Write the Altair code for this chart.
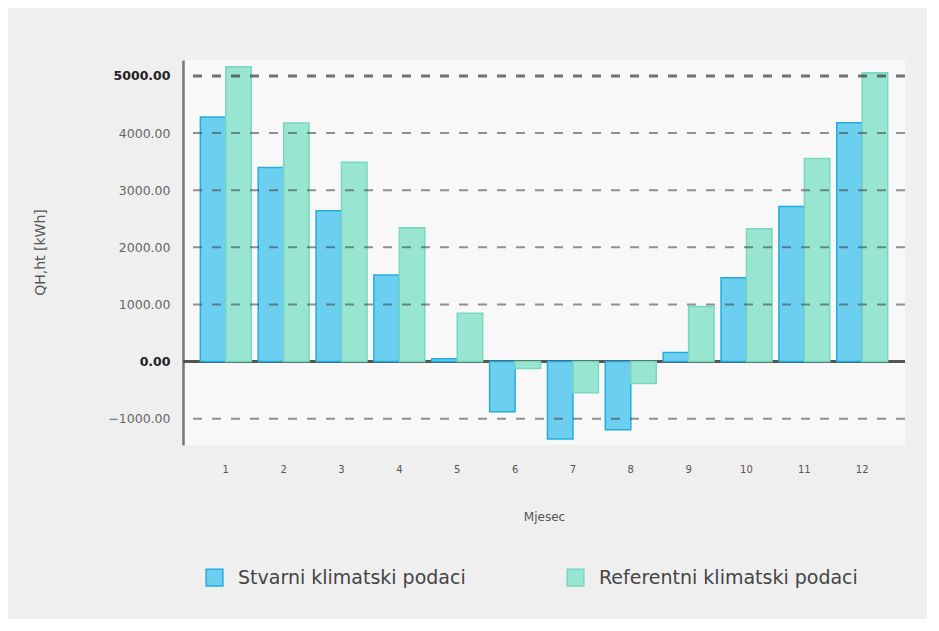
import altair as alt
import pandas as pd

months = [1, 2, 3, 4, 5, 6, 7, 8, 9, 10, 11, 12]
stvarni = [4280, 3400, 2640, 1515, 50, -880, -1355, -1195, 160, 1470, 2715, 4180]
referentni = [5160, 4175, 3490, 2345, 845, -120, -545, -385, 965, 2325, 3555, 5055]
series_names = ["Stvarni klimatski podaci", "Referentni klimatski podaci"]
y_ticks = [-1000, 0, 1000, 2000, 3000, 4000, 5000]
grid_thin = [-1000, 1000, 2000, 3000, 4000]
grid_thick = [5000]

rows = []
for m, a, b in zip(months, stvarni, referentni):
    rows.append({"Mjesec": m, "serija": series_names[0], "val": a})
    rows.append({"Mjesec": m, "serija": series_names[1], "val": b})
df = pd.DataFrame(rows)
thin_df = pd.DataFrame({"val": grid_thin})
thick_df = pd.DataFrame({"val": grid_thick})

FONT = "DejaVu Sans"

x = alt.X(
    "Mjesec:O",
    title="Mjesec",
    scale=alt.Scale(paddingInner=0.12, paddingOuter=0.3),
    axis=alt.Axis(
        labelAngle=0, ticks=False, domain=False, labelPadding=19,
        labelFontSize=10, labelColor="#555", labelFont=FONT,
        titleFontSize=12, titleFont=FONT, titleColor="#555",
        titleFontWeight="normal", titlePadding=37, grid=False,
    ),
)

yscale = alt.Scale(domain=[-1460, 5280], nice=False, zero=True)

y = alt.Y(
    "val:Q",
    title="QH,ht [kWh]",
    scale=yscale,
    axis=alt.Axis(
        values=y_ticks, format=".2f", ticks=False, grid=False,
        domainColor="#777", domainWidth=2.5,
        labelPadding=13, labelFontSize=12.5, labelFont=FONT,
        labelColor=alt.ExprRef(expr="datum.value == 0 || datum.value == 5000 ? '#222' : '#666'"),
        labelFontWeight=alt.ExprRef(expr="datum.value == 0 || datum.value == 5000 ? 'bold' : 'normal'"),
        titleFontSize=14, titleFont=FONT, titleColor="#555", titleFontWeight="normal",
        titleX=-143, titleY=192, titleAngle=-90, titleBaseline="middle", titleAlign="center",
    ),
)

zero_rule = alt.Chart(df).mark_rule(color="#555", strokeWidth=2).encode(
    y=alt.datum(0)
)

bars = alt.Chart(df).mark_bar(strokeWidth=1.5).encode(
    x=x,
    y=y,
    xOffset=alt.XOffset("serija:N", sort=series_names),
    fill=alt.Fill(
        "serija:N",
        sort=series_names,
        scale=alt.Scale(domain=series_names, range=["#6dcff0", "#98e6d2"]),
        legend=alt.Legend(title=None),
    ),
    stroke=alt.Stroke(
        "serija:N",
        sort=series_names,
        scale=alt.Scale(domain=series_names, range=["#22ade0", "#78d8be"]),
        legend=alt.Legend(title=None),
    ),
)

grid_a = alt.Chart(thin_df).mark_rule(
    color="#3a3a3a", opacity=0.55, strokeWidth=2, strokeDash=[9, 10]
).encode(y=alt.Y("val:Q", scale=yscale))

grid_b = alt.Chart(thick_df).mark_rule(
    color="#3a3a3a", opacity=0.7, strokeWidth=3, strokeDash=[9, 10]
).encode(y=alt.Y("val:Q", scale=yscale))

chart = (
    alt.layer(zero_rule, bars, grid_a, grid_b)
    .properties(
        width=722,
        height=385,
        background="#efefef",
        padding={"left": 175, "top": 52, "right": 22, "bottom": 174},
        autosize=alt.AutoSizeParams(type="none"),
    )
    .configure_view(fill="#f8f8f8", stroke=None)
    .configure_legend(
        orient="none",
        legendX=22,
        legendY=508,
        direction="horizontal",
        symbolType="square",
        symbolSize=280,
        symbolStrokeWidth=1.5,
        labelFont="DejaVu Sans",
        labelFontSize=19,
        labelColor="#444",
        labelOffset=14,
        columnPadding=98,
        labelLimit=400,
    )
)

chart.save("out.html", embed_options={"renderer": "svg", "actions": False})
